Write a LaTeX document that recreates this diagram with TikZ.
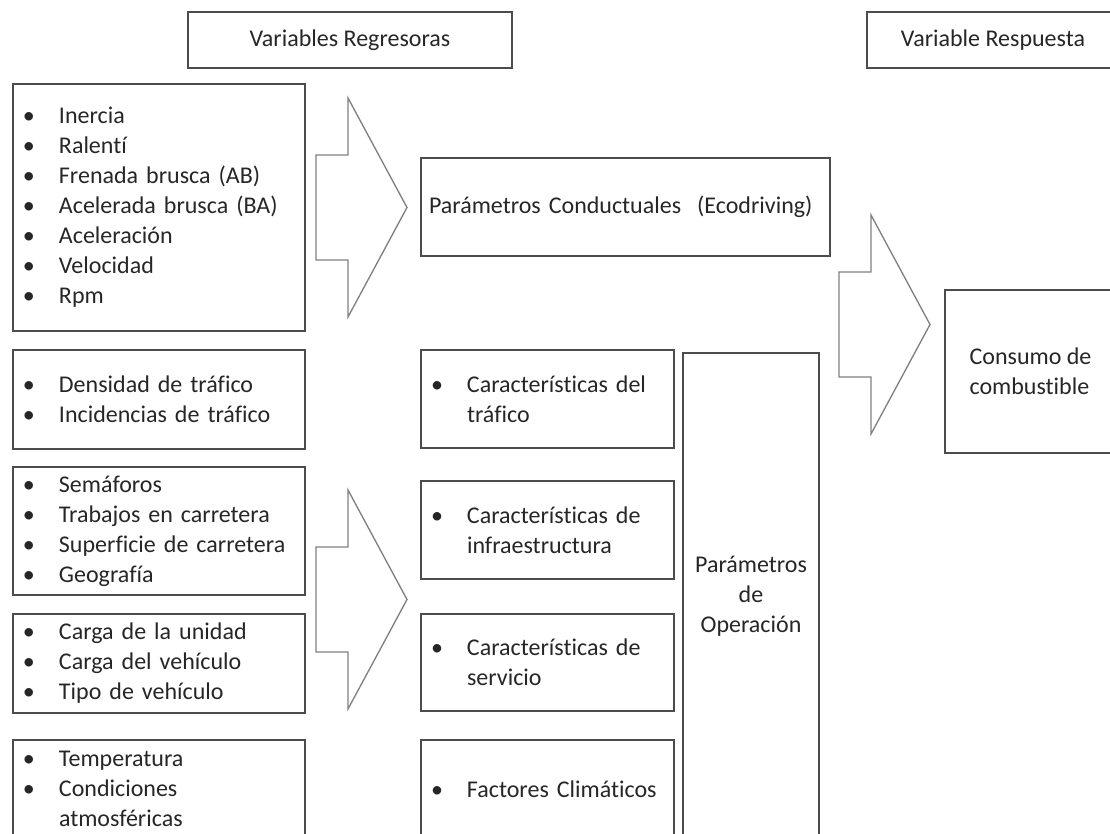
\documentclass[tikz,border=0pt]{standalone}
\usepackage{fontspec}
\setmainfont{Carlito}[Ligatures=NoCommon]

\tikzset{
  box/.style={rectangle, draw=black!70, line width=0.9pt, text=black!85,
    font=\fontsize{18}{22.5}\selectfont, inner ysep=2pt},
  listbox/.style={box, text width=207pt, inner xsep=6pt, align=left},
  midbox/.style={box, text width=177.75pt, inner xsep=6pt, align=left},
  blockarrow/.style={draw=black!50, line width=1pt, line join=miter}
}
\newcommand{\itm}[1]{\makebox[28.5pt][l]{\hspace{1.5pt}\textbullet}#1}
\newcommand{\cont}[1]{\hspace*{28.5pt}#1}

\begin{document}
\begin{tikzpicture}[x=0.75pt, y=-0.75pt]
  \useasboundingbox (0,0) rectangle (1110,834);
  \clip (0,0) rectangle (1110,834);

  % Define the header boxes
  \node[box, minimum width=243pt, minimum height=42pt] (regresoras) at (350,40) {Variables Regresoras};
  \node[box, minimum width=189pt, minimum height=42pt] (respuesta) at (993,40) {Variable Respuesta};

  % Define the list boxes on the left side
  \node[listbox, minimum height=185.25pt] (conduccion) at (159,207.5)
    {\itm{Inercia}\\ \itm{Ralentí}\\ \itm{Frenada brusca (AB)}\\ \itm{Acelerada brusca (BA)}\\
     \itm{Aceleración}\\ \itm{Velocidad}\\ \itm{Rpm}};
  \node[listbox, minimum height=74.25pt] (densidad) at (159,399.5)
    {\itm{Densidad de tráfico}\\ \itm{Incidencias de tráfico}};
  \node[listbox, minimum height=96pt] (via) at (159,531)
    {\itm{Semáforos}\\ \itm{Trabajos en carretera}\\ \itm{Superficie de carretera}\\ \itm{Geografía}};
  \node[listbox, minimum height=74.25pt] (carga) at (159,663.5)
    {\itm{Carga de la unidad}\\ \itm{Carga del vehículo}\\ \itm{Tipo de vehículo}};
  \node[listbox, minimum height=73.5pt] (clima) at (159,789)
    {\itm{Temperatura}\\ \itm{Condiciones}\\ \cont{atmosféricas}};

  % Define the middle boxes
  \node[box, text width=294.75pt, inner xsep=6pt, align=left, minimum height=73.5pt] (conductual) at (625.5,207)
    {Parámetros Conductuales~ (Ecodriving)};
  \node[midbox, minimum height=73.5pt] (trafico) at (547.5,399)
    {\itm{Características del}\\ \cont{tráfico}};
  \node[midbox, minimum height=73.5pt] (infra) at (547.5,530)
    {\itm{Características de}\\ \cont{infraestructura}};
  \node[midbox, minimum height=72.75pt] (servicio) at (547.5,662.5)
    {\itm{Características de}\\ \cont{servicio}};
  \node[midbox, minimum height=73.5pt] (factores) at (547.5,789)
    {\itm{Factores Climáticos}};
  \node[box, minimum width=102pt, minimum height=364.5pt, align=center] (operacion) at (751,596)
    {Parámetros\\de\\Operación};

  % Define the box on the right side
  \node[box, minimum width=128.25pt, minimum height=122.25pt, align=left] (consumo) at (1030.5,371.5)
    {Consumo de\\combustible};

  % Draw the block arrows
  \foreach \ax/\ay in {316/207.5, 316/599.5, 839/324.5}
  \draw[blockarrow] ({\ax},{\ay-52.5}) -- ++(32,0) -- ++(0,-57) -- ++(59,109.5)
    -- ++(-59,109.5) -- ++(0,-57) -- ++(-32,0) -- cycle;
\end{tikzpicture}
\end{document}
